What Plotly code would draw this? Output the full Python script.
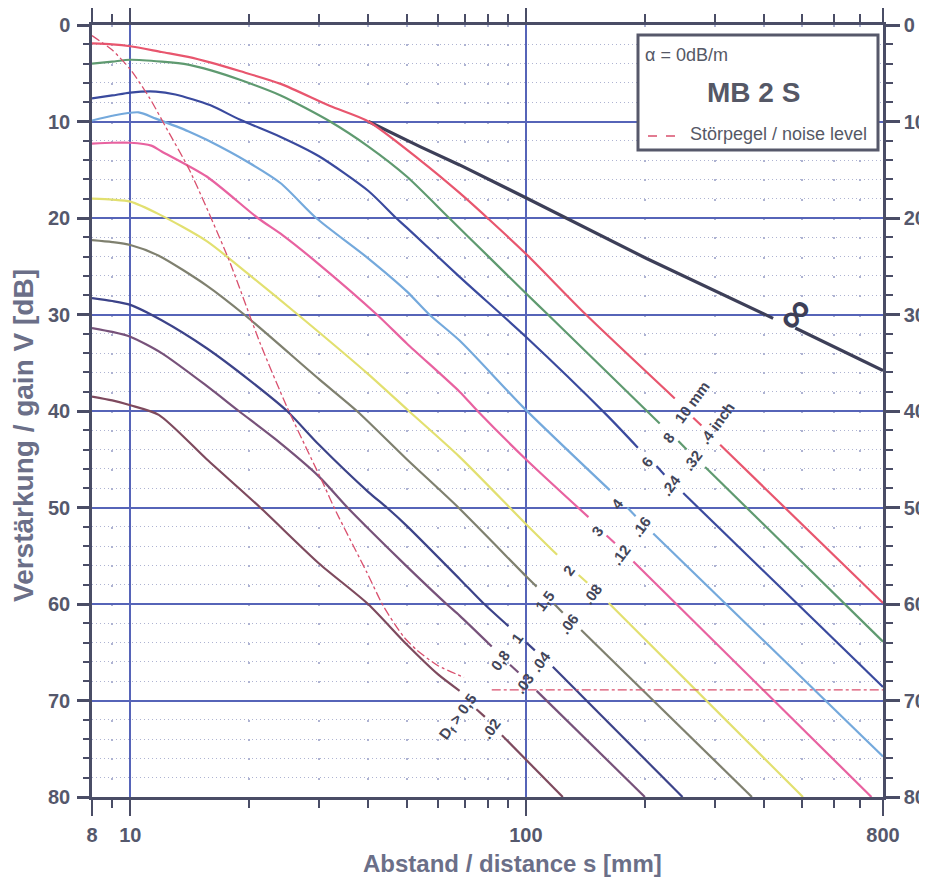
import math
import plotly.graph_objects as go

# ---------------- values ----------------
# distance s [mm] / gain V [dB]; None = interruption of a curve around its size labels
s_inf = [40, 54, 68, 100, 202, 422, None, 480, 800]
v_inf = [10.0, 12.6, 14.5, 17.9, 24.2, 30.4, None, 31.4, 35.8]

s_10 = [8, 9, 10, 12, 14, 16, 19, 24, 32, 40, 54, 68, 80, 100, 141, 238, None, 265, 278, None, 310, 800]
v_10 = [1.9, 2.0, 2.2, 2.8, 3.3, 3.9, 4.8, 6.1, 8.4, 10.0, 14.0, 17.4, 20.0, 23.7, 29.9, 38.7, None, 40.7, 41.5, None, 43.5, 59.9]

s_8 = [8, 9, 10, 12, 14, 16, 19, 24, 32, 40, 50, 64, 80, 100, 113, 218, None, 243, 255, None, 284, 800]
v_8 = [4.0, 3.8, 3.6, 3.8, 4.1, 4.7, 5.7, 7.3, 10.0, 12.6, 15.7, 20.0, 23.9, 27.8, 29.9, 41.3, None, 43.1, 44.0, None, 45.8, 63.9]

s_6 = [8, 9, 10, 11.6, 13, 15.9, 18.9, 24, 30, 40, 47, 50, 68, 100, 160, 192, None, 214, 224, None, 250, 800]
v_6 = [7.6, 7.3, 7.0, 6.9, 7.2, 8.3, 9.8, 11.6, 13.6, 17.2, 20.0, 21.0, 26.1, 32.3, 40.4, 43.8, None, 45.7, 46.6, None, 48.5, 68.6]

s_4 = [8, 9, 10.5, 11.6, 14, 15.6, 20, 24, 29.5, 40, 50, 57, 68, 99, 163, None, 180.5, 189.5, None, 210, 800]
v_4 = [9.9, 9.4, 9.05, 9.7, 11.0, 11.9, 14.3, 16.4, 20.0, 24.2, 27.6, 30.0, 32.7, 39.7, 48.2, None, 50.0, 50.9, None, 52.7, 75.8]

s_3 = [8, 9, 10, 11.3, 12, 15.6, 21, 24.3, 30, 42, 50, 68, 75.5, 100, 144, None, 160, 168, None, 187, 748]
v_3 = [12.3, 12.2, 12.2, 12.5, 13.1, 15.7, 20.0, 21.8, 24.8, 30.0, 33.0, 38.0, 40.0, 45.0, 51.0, None, 52.9, 53.7, None, 55.6, 80.0]

s_2 = [8, 9, 10, 11.8, 15.6, 20, 26.5, 40, 50.6, 67.8, 100, 120, None, 136, 143, None, 162, 502]
v_2 = [18.0, 18.1, 18.3, 19.6, 22.4, 25.9, 30.0, 36.2, 40.0, 44.7, 51.7, 54.9, None, 57.0, 57.8, None, 59.9, 80.0]

s_15 = [8, 9, 10, 11.8, 15.6, 19.4, 30, 37.4, 50, 67.5, 100, 106.5, None, 118, 124, None, 138, 373]
v_15 = [22.3, 22.5, 22.8, 23.9, 27.0, 30.0, 36.7, 40.0, 45.0, 50.0, 57.1, 58.2, None, 60.0, 60.9, None, 62.7, 80.0]

s_1 = [8, 9, 10, 12, 15.6, 20, 24.9, 30, 40, 44.5, 50, 68, 78, 90.4, None, 100.3, 105.4, None, 117, 249]
v_1 = [28.3, 28.6, 29.0, 30.6, 33.5, 36.8, 40.0, 43.5, 48.4, 50.0, 51.9, 57.4, 59.9, 62.3, None, 64.0, 64.8, None, 66.5, 80.0]

s_08 = [8, 9, 10, 12, 15.6, 18.8, 23.4, 30, 35.4, 40, 50, 63, 68, 82, None, 91.2, 95.8, None, 106.5, 200]
v_08 = [31.4, 31.8, 32.3, 34.0, 37.4, 40.0, 43.0, 46.8, 50.0, 52.2, 56.1, 60.0, 61.2, 64.4, None, 66.3, 67.1, None, 69.0, 80.0]

s_05 = [8, 9, 10, 11.8, 15.6, 21.3, 30, 39.9, 50, 60, 68, None, 75, 78.8, None, 87, 124]
v_05 = [38.5, 38.9, 39.4, 40.4, 45.0, 50.0, 55.8, 60.0, 64.2, 67.3, 69.0, None, 70.9, 71.7, None, 73.6, 80.0]

s_noise = [8, 9, 10, 11.2, 12.3, 14.1, 17.7, 21.3, 24.9, 30.8, 33.1, 39.6, 43.6, 49.1, 53.1, 60, 69.8, None, 82, 800]
v_noise = [1.1, 2.6, 4.6, 7.6, 10.6, 15.0, 24.2, 33.0, 39.6, 47.6, 50.4, 56.7, 60.2, 63.4, 64.8, 66.4, 67.6, None, 68.9, 68.9]

labels_mm = ["D<sub>f</sub> > 0,5", "0,8", "1", "1,5", "2", "3", "4", "6", "8", "10 mm"]
labels_inch = [".02", ".03", ".04", ".06", ".08", ".12", ".16", ".24", ".32", ".4 inch"]

x_tick_vals = [8, 10, 100, 800]
x_minor_vals = [9, 20, 30, 40, 50, 60, 70, 80, 90, 200, 300, 400, 500, 600, 700]
y_tick_vals = [0, 10, 20, 30, 40, 50, 60, 70, 80]
y_minor_vals = [2, 4, 6, 8, 12, 14, 16, 18, 22, 24, 26, 28, 32, 34, 36, 38, 42, 44, 46, 48,
                52, 54, 56, 58, 62, 64, 66, 68, 72, 74, 76, 78]

# ---------------- styling ----------------
OFF = 8                      # page body margin of the html page
W, H = 927 - OFF, 882 - OFF
ML, MR, MT, MB = 92 - OFF, 44, 25 - OFF, 85
PW, PH = W - ML - MR, H - MT - MB

SANS = "Liberation Sans, Arial, Helvetica, sans-serif"
AXIS_C = "#4a4d66"
TICK_C = "#55586c"
TITLE_C = "#6b6f88"
GRID_C = "#5664b8"
MINOR_C = "#aeb3d2"
LABEL_C = "#434659"

curves = [
    (s_05, v_05, "#7e4a5e"),
    (s_08, v_08, "#77527a"),
    (s_1, v_1, "#3c4389"),
    (s_15, v_15, "#7f806f"),
    (s_2, v_2, "#e2e070"),
    (s_3, v_3, "#e862a0"),
    (s_4, v_4, "#74a9dc"),
    (s_6, v_6, "#3a4a9e"),
    (s_8, v_8, "#5f9a70"),
    (s_10, v_10, "#e8566e"),
]


def px_to_paper(px, py):
    """screen pixel of the 927x882 window -> paper coordinates"""
    return (px - OFF - ML) / PW, (MT + PH - (py - OFF)) / PH


fig = go.Figure()

fig.add_trace(go.Scatter(x=s_inf, y=v_inf, mode="lines", connectgaps=False,
                         line=dict(color="#3d3f58", width=3.2), hoverinfo="skip", showlegend=False))
for s, v, c in curves:
    fig.add_trace(go.Scatter(x=s, y=v, mode="lines", connectgaps=False,
                             line=dict(color=c, width=2.2, shape="spline", smoothing=0.7),
                             hoverinfo="skip", showlegend=False))
# noise level on the right-hand (overlaid) axis, same scale
fig.add_trace(go.Scatter(x=s_noise, y=v_noise, mode="lines", connectgaps=False, yaxis="y2",
                         line=dict(color="#d9506e", width=1.3, dash="dashdot", shape="spline",
                                   smoothing=0.6),
                         hoverinfo="skip", showlegend=False))

# ---------------- size labels along the diagonal ----------------
ANG = -53.6
annotations = []
extra = {"D<sub>f</sub> > 0,5": (-9, -12), "10 mm": (9, 12), ".4 inch": (10, 14)}
for (s, v, c), lm, li in zip(curves, labels_mm, labels_inch):
    i1 = s.index(None)
    i2 = len(s) - 1 - s[::-1].index(None)
    xa, ya = s[i1 - 1], v[i1 - 1]
    xb, yb = s[i2 + 1], v[i2 + 1]
    xm = math.log10(math.sqrt(xa * xb))
    ym = (ya + yb) / 2
    ex, ey = extra.get(lm, (0, 0))
    annotations.append(dict(x=xm, y=ym, xref="x", yref="y", text="<b>%s</b>" % lm, showarrow=False,
                            textangle=ANG, xshift=-14 + ex, yshift=8 + ey,
                            font=dict(family=SANS, size=15, color=LABEL_C)))
    ex, ey = extra.get(li, (0, 0))
    annotations.append(dict(x=xm, y=ym, xref="x", yref="y", text="<b>%s</b>" % li, showarrow=False,
                            textangle=ANG, xshift=10 + ex, yshift=-15 + ey,
                            font=dict(family=SANS, size=15, color=LABEL_C)))

# infinity label of the back-wall curve
i1 = s_inf.index(None)
xm = math.log10(math.sqrt(s_inf[i1 - 1] * s_inf[i1 + 1]))
ym = (v_inf[i1 - 1] + v_inf[i1 + 1]) / 2
annotations.append(dict(x=xm, y=ym, xref="x", yref="y", text="<b>∞</b>", showarrow=False, textangle=-50,
                        xshift=9, yshift=10, font=dict(family=SANS, size=44, color="#3d3f58")))

# box texts
bx, by = px_to_paper(643, 55)
annotations.append(dict(x=bx, y=by, xref="paper", yref="paper", text="α = 0dB/m", showarrow=False,
                        xanchor="left", yanchor="middle", font=dict(family=SANS, size=18, color="#555866")))
bx, by = px_to_paper(753, 93)
annotations.append(dict(x=bx, y=by, xref="paper", yref="paper", text="<b>MB 2 S</b>", showarrow=False,
                        xanchor="center", yanchor="middle", font=dict(family=SANS, size=28, color="#555866")))
bx, by = px_to_paper(688, 134)
annotations.append(dict(x=bx, y=by, xref="paper", yref="paper", text="Störpegel / noise level",
                        showarrow=False, xanchor="left", yanchor="middle",
                        font=dict(family=SANS, size=18, color="#555866")))

# axis titles
tx, ty = px_to_paper(512, 863)
annotations.append(dict(x=tx, y=ty, xref="paper", yref="paper", text="<b>Abstand / distance s [mm]</b>",
                        showarrow=False, xanchor="center", yanchor="middle",
                        font=dict(family=SANS, size=24, color=TITLE_C)))
tx, ty = px_to_paper(23, 436)
annotations.append(dict(x=tx, y=ty, xref="paper", yref="paper", text="<b>Verstärkung / gain V [dB]</b>",
                        showarrow=False, xanchor="center", yanchor="middle", textangle=-90,
                        font=dict(family=SANS, size=28, color=TITLE_C)))

# ---------------- shapes ----------------
band_px = [(397.4, 775), (695.7, 370), (744.4, 405.9), (456.3, 797), (427.2, 797)]
band = [px_to_paper(*p) for p in band_px]
path = "M " + " L ".join("%.4f,%.4f" % p for p in band) + " Z"
shapes = [
    dict(type="path", xref="paper", yref="paper", path=path, fillcolor="white",
         line=dict(width=0), layer="between"),
]
ix0, iy0 = px_to_paper(773, 306)
ix1, iy1 = px_to_paper(806, 322)
shapes.append(dict(type="rect", xref="paper", yref="paper", x0=ix0, y0=iy0, x1=ix1, y1=iy1,
                   fillcolor="white", line=dict(width=0), layer="between"))
# description box
x0, y0 = px_to_paper(638, 35)
x1, y1 = px_to_paper(878, 150)
shapes.append(dict(type="rect", xref="paper", yref="paper", x0=x0, y0=y1, x1=x1, y1=y0,
                   fillcolor="white", line=dict(color="#56586a", width=3), layer="above"))
lx0, ly = px_to_paper(648, 136)
lx1, _ = px_to_paper(678, 136)
shapes.append(dict(type="line", xref="paper", yref="paper", x0=lx0, y0=ly, x1=lx1, y1=ly,
                   line=dict(color="#d9506e", width=1.3, dash="dash"), layer="above"))

tickfont = dict(family=SANS, size=20, color=TICK_C, weight="bold")

fig.update_layout(
    width=W, height=H,
    margin=dict(l=ML, r=MR, t=MT, b=MB, autoexpand=False),
    paper_bgcolor="white", plot_bgcolor="white",
    showlegend=False,
    xaxis=dict(type="log", range=[math.log10(8), math.log10(800)], automargin=False,
               tickmode="array", tickvals=x_tick_vals, ticktext=[str(t) for t in x_tick_vals],
               ticks="outside", ticklen=16, tickwidth=2, tickcolor=AXIS_C, tickfont=tickfont,
               ticklabelstandoff=2,
               showline=True, linecolor=AXIS_C, linewidth=2.5, mirror="ticks",
               showgrid=True, gridcolor=GRID_C, gridwidth=2, zeroline=False,
               minor=dict(tickmode="array", tickvals=x_minor_vals, ticks="outside", ticklen=8,
                          tickwidth=2, tickcolor=AXIS_C, showgrid=True, gridcolor=MINOR_C,
                          gridwidth=1.5, griddash="2px,17.3px")),
    yaxis=dict(range=[80, 0], tickmode="array", tickvals=y_tick_vals, automargin=False,
               ticks="outside", ticklen=12, tickwidth=2.5, tickcolor=AXIS_C, tickfont=tickfont,
               ticklabelstandoff=3,
               showline=True, linecolor=AXIS_C, linewidth=2.5,
               showgrid=True, gridcolor=GRID_C, gridwidth=2, zeroline=False,
               minor=dict(tickmode="array", tickvals=y_minor_vals, ticks="outside", ticklen=6,
                          tickwidth=2, tickcolor=AXIS_C, showgrid=True, gridcolor=MINOR_C,
                          gridwidth=1, griddash="1px,3px")),
    yaxis2=dict(range=[80, 0], overlaying="y", side="right", tickmode="array", tickvals=y_tick_vals,
                automargin=False,
                ticks="outside", ticklen=14, tickwidth=2.5, tickcolor=AXIS_C, tickfont=tickfont,
                ticklabelstandoff=0,
                showline=True, linecolor=AXIS_C, linewidth=2.5, showgrid=False, zeroline=False,
                minor=dict(tickmode="array", tickvals=y_minor_vals, ticks="outside", ticklen=7,
                           tickwidth=2, tickcolor=AXIS_C, showgrid=False)),
    annotations=annotations,
    shapes=shapes,
)

fig.write_html("out.html")
